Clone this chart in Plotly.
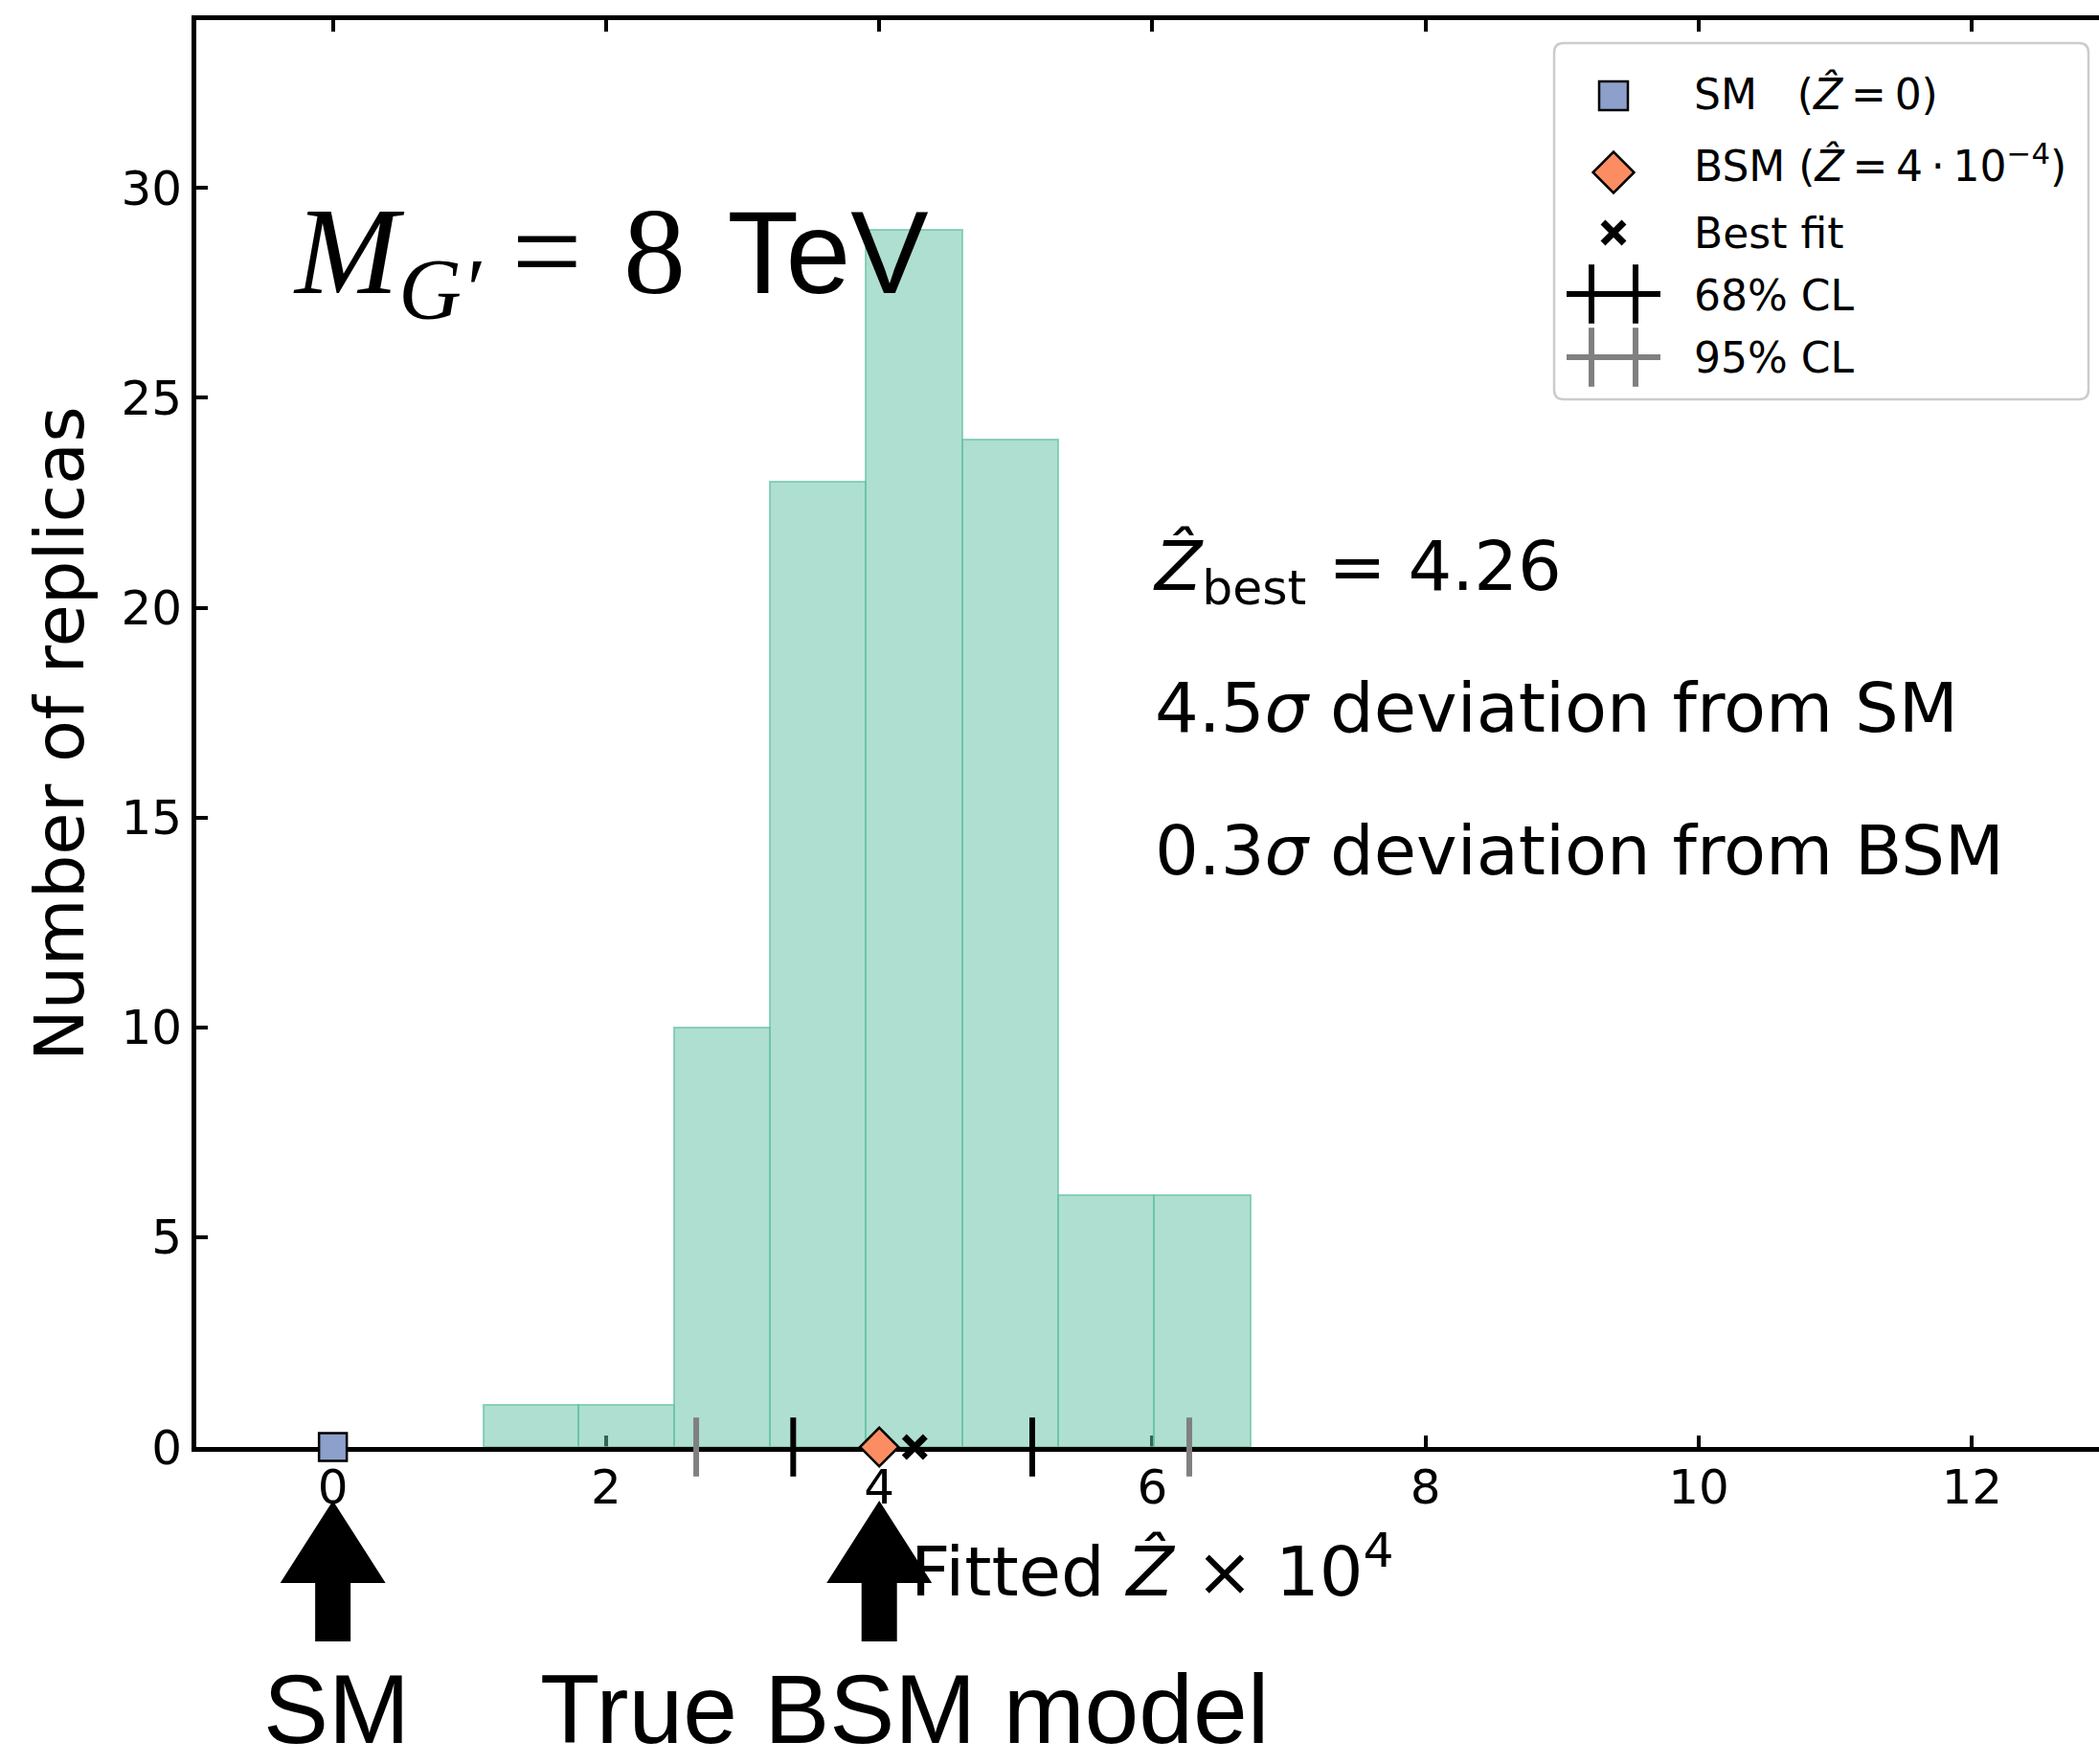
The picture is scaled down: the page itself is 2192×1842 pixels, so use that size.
import plotly.graph_objects as go

# ---------------- data ----------------
bin_edges = [1.10, 1.80, 2.50, 3.20, 3.90, 4.61, 5.31, 6.01, 6.72]
replica_counts = [1, 1, 10, 23, 29, 24, 6, 6]
sm_value = [0.0]
bsm_value = [4.0]
best_fit = [4.26]
cl68_bounds = [3.37, 5.12]
cl95_bounds = [2.66, 6.27]
x_tick_vals = [0, 2, 4, 6, 8, 10, 12]
y_tick_vals = [0, 5, 10, 15, 20, 25, 30]
x_range = [-1.0, 12.93]
y_range = [0, 34]

# ---------------- layout constants (pixels) ----------------
W, H = 2192, 1842
L, R, T, B = 205, 2192, 21, 1511

SM_COLOR = "#8da0cb"
BSM_COLOR = "#fc8d62"
HIST_FILL = "rgba(102,194,165,0.52)"
HIST_EDGE = "rgba(102,194,165,0.7)"
GRAY = "#808080"
SANS = "DejaVu Sans"
THIN = "\u2009"


def px(xp):
    return (xp - L) / (R - L)


def py(yp):
    return (B - yp) / (B - T)


bin_centers = [(a + b) / 2 for a, b in zip(bin_edges[:-1], bin_edges[1:])]
bin_widths = [b - a for a, b in zip(bin_edges[:-1], bin_edges[1:])]

fig = go.Figure()

# histogram
fig.add_trace(go.Bar(
    x=bin_centers, y=replica_counts, width=bin_widths,
    marker=dict(color=HIST_FILL, line=dict(color=HIST_EDGE, width=2)),
    showlegend=False, hoverinfo="skip"))

# CL caps on the axis
fig.add_trace(go.Scatter(
    x=cl95_bounds, y=[0] * len(cl95_bounds), mode="markers", cliponaxis=False,
    marker=dict(symbol="line-ns", size=44, line=dict(color=GRAY, width=6)),
    showlegend=False, hoverinfo="skip"))
fig.add_trace(go.Scatter(
    x=cl68_bounds, y=[0] * len(cl68_bounds), mode="markers", cliponaxis=False,
    marker=dict(symbol="line-ns", size=44, line=dict(color="black", width=6)),
    showlegend=False, hoverinfo="skip"))

# SM / BSM / best fit markers
fig.add_trace(go.Scatter(
    x=sm_value, y=[0], mode="markers", cliponaxis=False,
    marker=dict(symbol="square", size=29, color=SM_COLOR,
                line=dict(color="black", width=2.5)),
    showlegend=False, hoverinfo="skip"))
fig.add_trace(go.Scatter(
    x=bsm_value, y=[0], mode="markers", cliponaxis=False,
    marker=dict(symbol="diamond", size=31, color=BSM_COLOR,
                line=dict(color="black", width=2.5)),
    showlegend=False, hoverinfo="skip"))
fig.add_trace(go.Scatter(
    x=best_fit, y=[0], mode="markers", cliponaxis=False,
    marker=dict(symbol="x-thin", size=22, line=dict(color="black", width=7)),
    showlegend=False, hoverinfo="skip"))

# ---------------- hand-made legend (pixel axis overlay) ----------------
LEG_SYM_X = 1685
leg_rows = {"sm": 100, "bsm": 180, "best": 243, "cl68": 307, "cl95": 373}
fig.add_trace(go.Scatter(
    x=[LEG_SYM_X], y=[leg_rows["sm"]], xaxis="x3", yaxis="y3", mode="markers",
    marker=dict(symbol="square", size=30, color=SM_COLOR,
                line=dict(color="black", width=2.5)),
    showlegend=False, hoverinfo="skip"))
fig.add_trace(go.Scatter(
    x=[LEG_SYM_X], y=[leg_rows["bsm"]], xaxis="x3", yaxis="y3", mode="markers",
    marker=dict(symbol="diamond", size=33, color=BSM_COLOR,
                line=dict(color="black", width=2.5)),
    showlegend=False, hoverinfo="skip"))
fig.add_trace(go.Scatter(
    x=[LEG_SYM_X], y=[leg_rows["best"]], xaxis="x3", yaxis="y3", mode="markers",
    marker=dict(symbol="x-thin", size=22, line=dict(color="black", width=7)),
    showlegend=False, hoverinfo="skip"))
for key, col in (("cl68", "black"), ("cl95", GRAY)):
    yy = leg_rows[key]
    fig.add_trace(go.Scatter(
        x=[LEG_SYM_X - 49, LEG_SYM_X + 49], y=[yy, yy], xaxis="x3", yaxis="y3",
        mode="lines", line=dict(color=col, width=6),
        showlegend=False, hoverinfo="skip"))
    fig.add_trace(go.Scatter(
        x=[LEG_SYM_X - 23, LEG_SYM_X + 23], y=[yy, yy], xaxis="x3", yaxis="y3",
        mode="markers",
        marker=dict(symbol="line-ns", size=44, line=dict(color=col, width=6)),
        showlegend=False, hoverinfo="skip"))


def rel(xp, yp):
    # pixel offsets relative to the top-left corner of the plot area (y up)
    return f"{xp - L:.1f},{T - yp:.1f}"


def rounded_box(x0, y0, x1, y1, r):
    return ("M" + rel(x0 + r, y0) + " L" + rel(x1 - r, y0) +
            " Q" + rel(x1, y0) + " " + rel(x1, y0 + r) +
            " L" + rel(x1, y1 - r) +
            " Q" + rel(x1, y1) + " " + rel(x1 - r, y1) +
            " L" + rel(x0 + r, y1) +
            " Q" + rel(x0, y1) + " " + rel(x0, y1 - r) +
            " L" + rel(x0, y0 + r) +
            " Q" + rel(x0, y0) + " " + rel(x0 + r, y0) + " Z")


shapes = [dict(
    type="path", xref="paper", yref="paper", xsizemode="pixel", ysizemode="pixel",
    xanchor=0, yanchor=1, path=rounded_box(1623, 45, 2181, 417, 10),
    fillcolor="rgba(255,255,255,0.85)", line=dict(color="#cccccc", width=2.5),
    layer="below")]

# big arrows under the axis (pixel geometry anchored at data x)
arrow_path = ("M0,-56 L55,-142 L18.5,-142 L18.5,-203 L-18.5,-203 "
              "L-18.5,-142 L-55,-142 Z")
for xv in (sm_value[0], bsm_value[0]):
    shapes.append(dict(
        type="path", xref="x", yref="paper", xsizemode="pixel", ysizemode="pixel",
        xanchor=xv, yanchor=0, path=arrow_path, fillcolor="black",
        line=dict(width=0), layer="above"))

# ---------------- annotations ----------------
ann = []


def text(x_px, y_px, s, size, xanchor="left", yanchor="top", family=SANS,
         angle=0):
    ann.append(dict(x=px(x_px), y=py(y_px), xref="paper", yref="paper",
                    text=s, showarrow=False, xanchor=xanchor, yanchor=yanchor,
                    textangle=angle, borderpad=0,
                    font=dict(family=family, size=size, color="black")))


ZHAT = "<i>\u1E90</i>"
# axis titles
text(62, 766, "Number of replicas", 72, xanchor="center", yanchor="middle",
     angle=-90)
text(1203, 1684, f"Fitted {ZHAT} \u00d7 10<sup>4</sup>", 72,
     xanchor="center", yanchor="bottom")
# statistics text
text(1203, 548, f"{ZHAT}<sub>best</sub> = 4.26", 72)
text(1205, 696, "4.5<i>\u03c3</i> deviation from SM", 72)
text(1205, 845, "0.3<i>\u03c3</i> deviation from BSM", 72)
# mass label
text(305, 189,
     "<i>M</i><sub><i>G\u2032</i></sub> =\u20048\u2004"
     "<span style=\"font-family:Liberation Sans,Arial,sans-serif;"
     "font-size:122px\">TeV</span>",
     130, family="Liberation Serif")
# bottom labels
text(351, 1727, "SM", 102, xanchor="center", family="Liberation Sans")
text(944, 1727, "True BSM model", 102, xanchor="center",
     family="Liberation Sans")
# legend labels
LEG_TX = 1768
text(LEG_TX, 71,
     f"SM\u00a0\u00a0\u00a0({ZHAT}{THIN}={THIN}0)", 44)
text(LEG_TX, 200,
     f"BSM ({ZHAT}{THIN}={THIN}4{THIN}\u00b7{THIN}10<sup>\u22124</sup>)", 44,
     yanchor="bottom")
text(LEG_TX, 217, "Best fit", 44)
text(LEG_TX, 282, "68% CL", 44)
text(LEG_TX, 347, "95% CL", 44)

axis_common = dict(showgrid=False, zeroline=False, ticks="inside", ticklen=12,
                   tickwidth=3.5, tickcolor="black", linecolor="black",
                   linewidth=5, layer="below traces",
                   tickfont=dict(family=SANS, size=50, color="black"))

fig.update_layout(
    width=W, height=H,
    margin=dict(l=L, r=W - R, t=T, b=H - B, pad=0, autoexpand=False),
    paper_bgcolor="white", plot_bgcolor="white",
    font=dict(family=SANS, color="black"),
    showlegend=False, bargap=0,
    xaxis=dict(range=x_range, tickvals=x_tick_vals, showline=True,
               mirror="ticks", automargin=False, ticklabelstandoff=-6,
               **axis_common),
    yaxis=dict(range=y_range, tickvals=y_tick_vals, showline=True,
               automargin=False, **axis_common),
    yaxis2=dict(range=y_range, tickvals=y_tick_vals, overlaying="y",
                side="right", anchor="x", showline=False,
                showticklabels=False, showgrid=False, zeroline=False,
                ticks="inside", ticklen=12, tickwidth=3.5, tickcolor="black"),
    xaxis3=dict(range=[L, R], overlaying="x", visible=False),
    yaxis3=dict(range=[B, T], overlaying="y", visible=False, anchor="x3"),
    shapes=shapes, annotations=ann,
)

fig.write_html("out.html")
